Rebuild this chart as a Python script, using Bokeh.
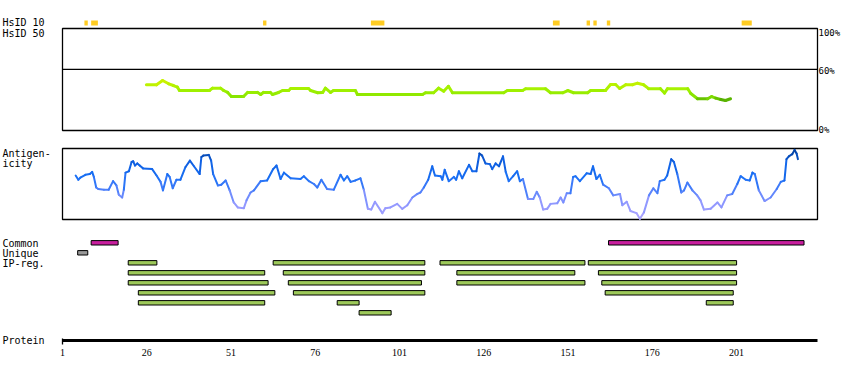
from bokeh.plotting import figure
from bokeh.models import Range1d
from bokeh.core.properties import value
from bokeh.embed import file_html
from bokeh.resources import INLINE

# ---------------- data ----------------
SEQ_LEN = 225
tick_values = [1, 26, 51, 76, 101, 126, 151, 176, 201]
tick_labels = ["1", "26", "51", "76", "101", "126", "151", "176", "201"]

hsid10_start = [7.5, 9.5, 60.5, 92.5, 146.5, 156.5, 158.5, 162.5, 202.5]
hsid10_end = [8.5, 11.5, 61.5, 96.5, 148.5, 157.5, 159.5, 163.5, 205.5]

hsid50_res = [25.9, 28.9, 30.7, 32.5, 33.9, 35.1, 35.7, 44.6, 45.5, 47.9, 48.8, 50.0, 51.1, 54.7,
              55.9, 58.9, 59.8, 60.6, 62.7, 63.3, 65.1, 66.3, 68.1, 68.7, 74.0, 74.6, 76.7, 78.2,
              79.0, 80.5, 81.4, 87.9, 88.5, 107.8, 108.7, 111.1, 112.6, 114.1, 115.5, 116.7, 131.9,
              133.0, 137.5, 138.4, 144.3, 145.8, 149.4, 150.9, 152.6, 156.8, 157.7, 162.1, 163.6,
              165.1, 166.3, 168.1, 170.1, 171.6, 173.4, 174.9, 178.4, 179.6, 180.5, 186.5, 187.4,
              189.4, 192.4, 193.6, 194.8, 196.3, 197.7, 199.2]
hsid50_pct = [44.8, 44.8, 49.0, 45.8, 44.1, 42.5, 39.2, 39.2, 41.5, 41.5, 39.2, 37.3, 33.3, 33.3,
              37.3, 37.3, 35.3, 37.3, 37.3, 35.3, 37.3, 39.2, 39.2, 41.2, 41.2, 39.2, 37.0, 37.3,
              41.5, 37.3, 39.2, 39.2, 35.3, 35.3, 37.0, 37.0, 41.5, 38.5, 43.4, 37.0, 37.0,
              39.2, 39.2, 40.9, 40.9, 37.0, 37.0, 39.2, 37.0, 37.0, 39.2, 39.2, 45.1,
              45.1, 41.2, 44.9, 44.9, 46.4, 44.9, 41.0, 41.0, 36.7, 41.0, 41.0, 36.3,
              31.1, 31.1, 33.3, 31.7, 30.4, 29.4, 31.1]

ag_res = [4.9, 5.7, 6.3, 7.8, 9.1, 9.8, 10.3, 11.0, 11.6, 13.3, 14.7, 16.0, 17.0, 17.7, 18.7, 19.2,
          19.7, 20.7, 21.5, 22.0, 22.5, 23.2, 23.9, 24.9, 27.6, 28.9, 30.1, 30.8, 32.1, 32.8, 33.7,
          34.8, 36.0, 37.5, 38.8, 40.0, 41.7, 42.2, 42.8, 44.4, 45.1, 45.7, 47.1, 48.1, 49.4, 50.6,
          51.8, 53.0, 54.8, 55.6, 56.8, 57.8, 59.8, 61.7, 63.5, 64.5, 65.7, 66.7, 68.7, 71.6, 72.6,
          74.1, 75.6, 76.6, 77.8, 79.5, 81.5, 83.5, 84.5, 85.5, 86.5, 87.9, 89.4, 90.4, 91.6, 92.6,
          93.7, 95.9, 96.8, 98.3, 100.3, 101.8, 103.3, 104.8, 106.3, 107.2, 108.2, 109.5, 110.7,
          111.5, 113.2, 113.7, 114.4, 115.6, 117.1, 117.8, 118.6, 119.6, 121.6, 122.6, 123.8,
          124.7, 125.5, 126.5, 127.8, 128.5, 129.5, 130.5, 131.7, 132.5, 133.4, 134.7, 135.9,
          136.7, 137.6, 139.1, 140.7, 141.7, 142.6, 143.6, 144.8, 145.8, 147.8, 148.8, 149.6,
          150.6, 151.7, 152.5, 153.2, 154.5, 156.5, 157.7, 158.4, 159.4, 160.4, 161.4, 163.1,
          164.4, 166.4, 167.1, 168.4, 169.5, 171.3, 172.3, 173.5, 175.0, 176.3, 177.5, 178.2,
          179.6, 180.4, 181.6, 182.4, 183.4, 184.6, 185.4, 186.4, 187.9, 189.3, 190.3, 191.3,
          193.3, 195.3, 196.5, 198.2, 199.7, 201.2, 202.2, 203.7, 204.9, 205.7, 206.4, 207.6,
          209.3, 211.1, 212.9, 214.1, 215.2, 215.8, 216.5, 217.5, 218.2, 218.8, 219.2]
ag_val = [0.62, 0.56, 0.59, 0.63, 0.64, 0.67, 0.60, 0.45, 0.43, 0.42, 0.42, 0.54, 0.48, 0.35, 0.31,
          0.42, 0.66, 0.68, 0.81, 0.82, 0.76, 0.79, 0.76, 0.72, 0.71, 0.62, 0.53, 0.41, 0.64, 0.60,
          0.44, 0.56, 0.56, 0.74, 0.83, 0.75, 0.64, 0.88, 0.90, 0.91, 0.83, 0.64, 0.48, 0.49, 0.55,
          0.41, 0.24, 0.17, 0.16, 0.27, 0.38, 0.41, 0.54, 0.55, 0.71, 0.76, 0.57, 0.66, 0.58, 0.57,
          0.61, 0.54, 0.50, 0.45, 0.56, 0.43, 0.42, 0.63, 0.55, 0.61, 0.53, 0.55, 0.58, 0.42, 0.15,
          0.14, 0.25, 0.09, 0.16, 0.17, 0.22, 0.15, 0.20, 0.31, 0.36, 0.38, 0.45, 0.56, 0.75, 0.62,
          0.61, 0.56, 0.70, 0.54, 0.60, 0.56, 0.68, 0.58, 0.77, 0.68, 0.68, 0.93, 0.90, 0.79, 0.78,
          0.71, 0.79, 0.75, 0.89, 0.67, 0.54, 0.61, 0.68, 0.54, 0.57, 0.29, 0.29, 0.39, 0.31, 0.14,
          0.15, 0.22, 0.23, 0.31, 0.24, 0.37, 0.37, 0.60, 0.61, 0.54, 0.65, 0.64, 0.75, 0.57, 0.63,
          0.49, 0.44, 0.34, 0.36, 0.20, 0.25, 0.12, 0.09, 0.01, 0.10, 0.34, 0.44, 0.37, 0.54, 0.56,
          0.62, 0.85, 0.81, 0.64, 0.38, 0.41, 0.52, 0.41, 0.34, 0.27, 0.14, 0.15, 0.24, 0.17, 0.34,
          0.36, 0.50, 0.61, 0.56, 0.55, 0.66, 0.64, 0.41, 0.26, 0.31, 0.43, 0.53, 0.55, 0.85, 0.89,
          0.92, 0.98, 0.93, 0.85]

common_start = [9.5, 163.0]
common_end = [17.5, 221.0]
unique_start = [5.5]
unique_end = [8.5]

ip_start = [20.5, 63.5, 113.0, 157.0,
            20.5, 66.5, 118.0, 160.0,
            20.5, 68.0, 118.0, 161.0,
            23.5, 69.5, 162.0,
            23.5, 82.5, 192.0,
            89.0]
ip_end = [29.0, 108.5, 156.0, 201.0,
          61.0, 108.5, 153.0, 201.0,
          62.0, 107.5, 156.0, 201.0,
          64.0, 108.5, 200.0,
          61.0, 89.0, 200.0,
          98.5]
ip_row = [1, 1, 1, 1,
          2, 2, 2, 2,
          3, 3, 3, 3,
          4, 4, 4,
          5, 5, 5,
          6]

# ---------------- layout (page pixels) ----------------
W, H = 842, 372
X_FIRST, X_LAST = 62, 817          # page x of residue 1 and residue SEQ_LEN
k = (X_LAST - X_FIRST) / (SEQ_LEN - 1)
HS_TOP, HS_BOT = 28, 130           # 100% / 0%
AG_TOP, AG_BOT = 148, 219          # score 1 / 0
LANE0, LANE_STEP, HALF = 242.3, 10, 2.2
FONT = value("DejaVu Sans Mono")

hs_scale = (HS_BOT - HS_TOP) / 100.0
ag_scale = (AG_BOT - AG_TOP)

p = figure(width=W, height=H, output_backend="svg", toolbar_location=None,
           x_range=Range1d(1 - X_FIRST / k, 1 + (W - X_FIRST) / k),
           y_range=Range1d(H, 0), min_border=0,
           x_axis_location=None, y_axis_location=None)
p.outline_line_color = None
p.grid.visible = False
p.extra_x_ranges = {"px": Range1d(0, W)}
p.extra_y_ranges = {
    "pct": Range1d((HS_BOT - H) / hs_scale, HS_BOT / hs_scale),
    "ag": Range1d((AG_BOT - H) / ag_scale, AG_BOT / ag_scale),
}


def interp_color(v, stops):
    if v <= stops[0][0]:
        c = stops[0][1]
    elif v >= stops[-1][0]:
        c = stops[-1][1]
    else:
        for (v0, c0), (v1, c1) in zip(stops[:-1], stops[1:]):
            if v0 <= v <= v1:
                t = (v - v0) / (v1 - v0)
                c = tuple(int(round(a + (b - a) * t)) for a, b in zip(c0, c1))
                break
    return "#%02x%02x%02x" % c


# HsID 10 markers
p.quad(left=hsid10_start, right=hsid10_end, top=20, bottom=25,
       fill_color="#ffcc22", line_color=None)

# HsID 50 panel
p.quad(left=[1], right=[SEQ_LEN], top=[100], bottom=[0], fill_color=None,
       line_color="black", line_width=1.3, y_range_name="pct")
p.segment(x0=[1], x1=[SEQ_LEN], y0=[60], y1=[60], line_color="black",
          line_width=1.3, y_range_name="pct")
hs_stops = [(29, (70, 160, 0)), (33, (135, 228, 0)), (40, (162, 242, 0)), (49, (210, 242, 0))]
hs_cols = [interp_color((a + b) / 2, hs_stops) for a, b in zip(hsid50_pct[:-1], hsid50_pct[1:])]
p.segment(x0=hsid50_res[:-1], x1=hsid50_res[1:], y0=hsid50_pct[:-1], y1=hsid50_pct[1:],
          line_color=hs_cols, line_width=3, line_cap="round", y_range_name="pct")

# Antigenicity panel
p.quad(left=[1], right=[SEQ_LEN], top=[1], bottom=[0], fill_color=None,
       line_color="black", line_width=1.3, y_range_name="ag")
ag_stops = [(0.0, (175, 165, 255)), (0.25, (140, 150, 255)), (0.45, (70, 125, 250)),
            (0.6, (25, 112, 245)), (0.8, (15, 95, 225)), (1.0, (0, 60, 150))]
ag_cols = [interp_color((a + b) / 2, ag_stops) for a, b in zip(ag_val[:-1], ag_val[1:])]
p.segment(x0=ag_res[:-1], x1=ag_res[1:], y0=ag_val[:-1], y1=ag_val[1:],
          line_color=ag_cols, line_width=2, line_cap="round", y_range_name="ag")

# Feature lanes
def lane(i):
    return LANE0 + LANE_STEP * i

p.quad(left=common_start, right=common_end, top=lane(0) - HALF, bottom=lane(0) + HALF,
       fill_color="#c81e9e", line_color="black", line_width=1)
p.quad(left=unique_start, right=unique_end, top=lane(1) - HALF, bottom=lane(1) + HALF,
       fill_color="#999999", line_color="black", line_width=1)
p.quad(left=ip_start, right=ip_end,
       top=[lane(r + 1) - HALF for r in ip_row], bottom=[lane(r + 1) + HALF for r in ip_row],
       fill_color="#9dc95a", line_color="black", line_width=1)

# Protein axis
AXIS_Y = 340
p.segment(x0=[1], x1=[SEQ_LEN], y0=[AXIS_Y], y1=[AXIS_Y], line_color="black", line_width=3)
p.segment(x0=[1, SEQ_LEN], x1=[1, SEQ_LEN], y0=[AXIS_Y - 2], y1=[AXIS_Y + 4],
          line_color="black", line_width=1.3)
p.text(x=tick_values, y=[AXIS_Y + 12] * len(tick_values), text=tick_labels,
       text_font=value("Liberation Sans Narrow"), text_font_size="10px",
       text_align="center", text_baseline="middle", text_color="black")

# Texts
left_x = [2, 2, 2, 2, 2, 2, 2, 2]
left_y = [22, 33, 153, 163, 243, 253, 263, AXIS_Y]
left_t = ["HsID 10", "HsID 50", "Antigen-", "icity", "Common", "Unique", "IP-reg.", "Protein"]
p.text(x=left_x, y=left_y, text=left_t, text_font=FONT, text_font_size="10px",
       text_align="left", text_baseline="middle", text_color="black", x_range_name="px")
p.text(x=[818, 818, 818], y=[32, 70, 129], text=["100%", "60%", "0%"], text_font=FONT,
       text_font_size="9px", text_align="left", text_baseline="middle", text_color="black",
       x_range_name="px")

open("out.html", "w").write(file_html(p, INLINE))
